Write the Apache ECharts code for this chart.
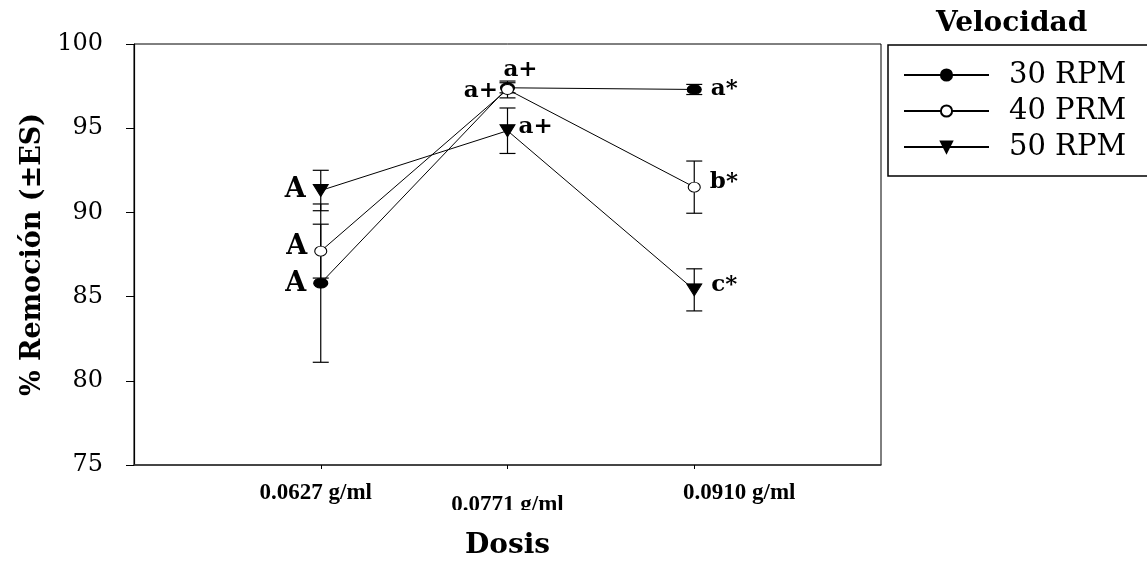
<!DOCTYPE html>
<html><head><meta charset="utf-8">
<script src="https://cdn.jsdelivr.net/npm/echarts@6/dist/echarts.min.js"></script>
<style>html,body{margin:0;padding:0;background:#fff}#c{width:1147px;height:561px}</style>
</head><body><div id="c"></div>
<script>
const categories = ['0.0627 g/ml', '0.0771 g/ml', '0.0910 g/ml'];
const seriesNames = ['30 RPM', '40 PRM', '50 RPM'];
const rpm30 = [85.8, 97.4, 97.3];
const se30 = [4.7, 0.3, 0.3];
const rpm40 = [87.7, 97.3, 91.5];
const se40 = [1.6, 0.5, 1.55];
const rpm50 = [91.3, 94.85, 85.4];
const se50 = [1.2, 1.35, 1.25];
const letters30 = ['A', 'a+', 'a*'];
const letters40 = ['A', 'a+', 'b*'];
const letters50 = ['A', 'a+', 'c*'];
const xPositions = [1, 2, 3];

// label layout (style only)
const lab30 = [
  {position: 'left', distance: 7, offset: [0, 1], fontSize: 27},
  {position: 'top', distance: 1, offset: [13, 0], fontSize: 23},
  {position: 'right', distance: 9, offset: [0, 0], fontSize: 23}
];
const lab40 = [
  {position: 'left', distance: 7, offset: [0, -4], fontSize: 27},
  {position: 'left', distance: 3, offset: [0, 2], fontSize: 23},
  {position: 'right', distance: 9, offset: [0, -5], fontSize: 23}
];
const lab50 = [
  {position: 'left', distance: 7, offset: [0, -1], fontSize: 27},
  {position: 'right', distance: 3, offset: [0, -4], fontSize: 23},
  {position: 'right', distance: 9, offset: [0, -5], fontSize: 23}
];

const SERIF = 'DejaVu Serif';
const TIMES = 'Liberation Serif';

function errSeries(name, vals, se) {
  return {
    type: 'custom', name: name, z: 1, silent: true, animation: false,
    data: vals.map((v, i) => [xPositions[i], v - se[i], v + se[i]]),
    encode: {x: 0, y: [1, 2]},
    renderItem: function (params, api) {
      const x = api.value(0);
      const lo = api.coord([x, api.value(1)]);
      const hi = api.coord([x, api.value(2)]);
      const w = 8;
      const st = {stroke: '#000', lineWidth: 1.2};
      return {type: 'group', children: [
        {type: 'line', shape: {x1: lo[0], y1: lo[1], x2: hi[0], y2: hi[1]}, style: st},
        {type: 'line', shape: {x1: lo[0] - w, y1: lo[1], x2: lo[0] + w, y2: lo[1]}, style: st},
        {type: 'line', shape: {x1: hi[0] - w, y1: hi[1], x2: hi[0] + w, y2: hi[1]}, style: st}
      ]};
    }
  };
}

function lineSeries(name, vals, letters, lab, symbol, size, rotate, fill) {
  return {
    type: 'line', name: name, z: 3, animation: false,
    symbol: symbol, symbolSize: size, symbolRotate: rotate,
    itemStyle: {color: fill, borderColor: '#000', borderWidth: 1},
    lineStyle: {color: '#000', width: 1},
    emphasis: {disabled: true},
    label: {show: true, fontFamily: SERIF, fontWeight: 'bold', color: '#000'},
    data: vals.map((v, i) => ({
      value: [xPositions[i], v],
      label: Object.assign({show: true, formatter: letters[i]}, lab[i])
    }))
  };
}

const xLabelStyle = {fontFamily: TIMES, fontWeight: 'bold', fontSize: 23, color: '#000'};

const chart = echarts.init(document.getElementById('c'));
chart.setOption({
  backgroundColor: '#fff',
  animation: false,
  title: {
    text: 'Velocidad', left: 936, top: 10, padding: 0,
    textStyle: {fontFamily: SERIF, fontWeight: 'bold', fontSize: 28, color: '#000'}
  },
  legend: {
    orient: 'vertical', left: 888, top: 45,
    padding: [15, 22, 14, 15],
    borderColor: '#000', borderWidth: 1.5,
    itemWidth: 85, itemHeight: 14, itemGap: 6,
    data: seriesNames,
    textStyle: {fontFamily: SERIF, fontSize: 29, color: '#000', lineHeight: 30, padding: [0, 0, 0, 15]}
  },
  grid: {left: 134, right: 266, top: 44, bottom: 96, show: true, borderColor: '#000', borderWidth: 1, outerBoundsMode: 'none'},
  graphic: [{
    type: 'rect', left: 440, top: 510, z: 100, silent: true,
    shape: {width: 140, height: 14}, style: {fill: '#fff'}
  }],
  xAxis: {
    type: 'value', min: 0, max: 4, interval: 1,
    axisLine: {show: true, onZero: false, lineStyle: {color: '#333', width: 1.5}},
    axisTick: {show: true, customValues: xPositions, length: 4, lineStyle: {color: '#000'}},
    axisLabel: {
      customValues: xPositions, margin: 17,
      formatter: function (v) {
        const i = Math.round(v) - 1;
        const key = ['l', 'm', 'r'][i];
        return '{' + key + '|' + categories[i] + '}';
      },
      rich: {
        l: Object.assign({padding: [0, 10, 0, 0]}, xLabelStyle),
        m: Object.assign({padding: [12, 0, 0, 0]}, xLabelStyle),
        r: Object.assign({padding: [0, 0, 0, 90]}, xLabelStyle)
      }
    },
    splitLine: {show: false},
    name: 'Dosis', nameLocation: 'middle', nameGap: 67,
    nameTextStyle: {fontFamily: SERIF, fontWeight: 'bold', fontSize: 28, color: '#000'}
  },
  yAxis: {
    type: 'value', min: 75, max: 100, interval: 5,
    axisLine: {show: true, lineStyle: {color: '#000', width: 1.2}},
    axisTick: {show: true, inside: false, length: 8, lineStyle: {color: '#000'}},
    axisLabel: {fontFamily: SERIF, fontSize: 24, color: '#000', margin: 31},
    splitLine: {show: false},
    name: '% Remoción (±ES)', nameLocation: 'middle', nameGap: 88,
    nameTextStyle: {fontFamily: SERIF, fontWeight: 'bold', fontSize: 27, color: '#000'}
  },
  series: [
    errSeries('e30', rpm30, se30),
    errSeries('e40', rpm40, se40),
    errSeries('e50', rpm50, se50),
    lineSeries(seriesNames[0], rpm30, letters30, lab30, 'circle', [14, 10], 0, '#000'),
    lineSeries(seriesNames[1], rpm40, letters40, lab40, 'circle', [12, 10], 0, '#fff'),
    lineSeries(seriesNames[2], rpm50, letters50, lab50, 'triangle', [15, 12], 180, '#000')
  ]
});
</script></body></html>
